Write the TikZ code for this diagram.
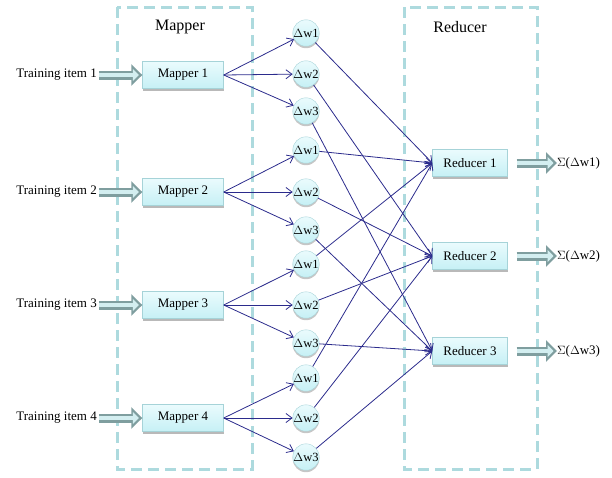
\documentclass[tikz,border=0pt]{standalone}
\usepackage{fontspec}
\setmainfont{Liberation Serif}
\usetikzlibrary{arrows.meta,shadows}

\definecolor{frameteal}{HTML}{ADDADE}
\definecolor{boxline}{HTML}{A6D3D8}
\definecolor{boxtop}{HTML}{EAFBFD}
\definecolor{boxbottom}{HTML}{C6F0F5}
\definecolor{arrowline}{HTML}{7F9E9F}
\definecolor{arrowfill}{HTML}{D3EEF0}
\definecolor{linkblue}{HTML}{2B2B8C}

\begin{document}
\begin{tikzpicture}[x=1pt,y=-1pt,font=\fontsize{13}{15}\selectfont,
    box/.style={draw=boxline, top color=boxtop, bottom color=boxbottom,
      minimum height=27pt, inner sep=0pt,
      drop shadow={shadow xshift=0.8pt, shadow yshift=-2pt, fill=gray!55, opacity=1}},
    mapbox/.style={box, minimum width=81pt},
    redbox/.style={box, minimum width=75pt},
    dw/.style={circle, draw=boxline, top color=boxtop, bottom color=boxbottom,
      minimum size=26pt, inner sep=0pt, font=\fontsize{12.5}{14}\selectfont,
      drop shadow={shadow xshift=0pt, shadow yshift=-2pt, fill=gray!45, opacity=1}},
    link/.style={draw=linkblue, line width=0.8pt, -{Straight Barb[length=6pt,width=9pt]}},
    fatarrow/.style={preaction={draw=arrowline, line width=9pt, shorten >=0pt,
        -{Triangle[length=11pt,width=21pt]}},
      draw=arrowfill, line width=4pt, shorten >=3.5pt,
      -{Triangle[length=6pt,width=12pt]}},
    frame/.style={draw=frameteal, line width=3pt, dash pattern=on 11pt off 6pt},
    title/.style={font=\fontsize{16}{18}\selectfont}]

    \useasboundingbox (0,0) rectangle (612,477);

    % dashed frames
    \draw[frame] (117,7) rectangle (252,469);
    \draw[frame] (404,7) rectangle (537,469);
    \node[title] (maptitle) at (180,27) {Mapper};
    \node[title] (redtitle) at (460,27) {Reducer};

    % mappers
    \node[mapbox] (map1) at (183,75) {Mapper 1};
    \node[mapbox] (map2) at (183,192) {Mapper 2};
    \node[mapbox] (map3) at (183,305) {Mapper 3};
    \node[mapbox] (map4) at (183,418) {Mapper 4};

    \node[anchor=east, inner sep=1pt] (item1) at (98,75) {Training item 1};
    \node[anchor=east, inner sep=1pt] (item2) at (98,192) {Training item 2};
    \node[anchor=east, inner sep=1pt] (item3) at (98,305) {Training item 3};
    \node[anchor=east, inner sep=1pt] (item4) at (98,418) {Training item 4};

    \draw[fatarrow, shorten <=1pt] (item1) -- (map1);
    \draw[fatarrow, shorten <=1pt] (item2) -- (map2);
    \draw[fatarrow, shorten <=1pt] (item3) -- (map3);
    \draw[fatarrow, shorten <=1pt] (item4) -- (map4);

    % delta w
    \node[dw] (dw11) at (306,33) {$\Delta$w1};
    \node[dw] (dw12) at (306,74) {$\Delta$w2};
    \node[dw] (dw13) at (306,111) {$\Delta$w3};
    \node[dw] (dw21) at (306,150) {$\Delta$w1};
    \node[dw] (dw22) at (306,192) {$\Delta$w2};
    \node[dw] (dw23) at (306,230) {$\Delta$w3};
    \node[dw] (dw31) at (306,264) {$\Delta$w1};
    \node[dw] (dw32) at (306,305) {$\Delta$w2};
    \node[dw] (dw33) at (306,343) {$\Delta$w3};
    \node[dw] (dw41) at (306,378) {$\Delta$w1};
    \node[dw] (dw42) at (306,418) {$\Delta$w2};
    \node[dw] (dw43) at (306,457) {$\Delta$w3};

    % reducers
    \node[redbox] (red1) at (470,163) {Reducer 1};
    \node[redbox] (red2) at (470,256) {Reducer 2};
    \node[redbox] (red3) at (470,351) {Reducer 3};

    \node[anchor=west, inner sep=0pt] (sum1) at (557,163) {$\Sigma$($\Delta$w1)};
    \node[anchor=west, inner sep=0pt] (sum2) at (557,256) {$\Sigma$($\Delta$w2)};
    \node[anchor=west, inner sep=0pt] (sum3) at (557,351) {$\Sigma$($\Delta$w3)};

    \draw[fatarrow, shorten <=9pt] (red1) -- (sum1);
    \draw[fatarrow, shorten <=9pt] (red2) -- (sum2);
    \draw[fatarrow, shorten <=9pt] (red3) -- (sum3);

    % mapper to delta w
    \draw[link] (map1.east) -- (dw11);
    \draw[link] (map1.east) -- (dw12);
    \draw[link] (map1.east) -- (dw13);
    \draw[link] (map2.east) -- (dw21);
    \draw[link] (map2.east) -- (dw22);
    \draw[link] (map2.east) -- (dw23);
    \draw[link] (map3.east) -- (dw31);
    \draw[link] (map3.east) -- (dw32);
    \draw[link] (map3.east) -- (dw33);
    \draw[link] (map4.east) -- (dw41);
    \draw[link] (map4.east) -- (dw42);
    \draw[link] (map4.east) -- (dw43);

    % delta w to reducer
    \draw[link] (dw11) -- (red1.west);
    \draw[link] (dw21) -- (red1.west);
    \draw[link] (dw31) -- (red1.west);
    \draw[link] (dw41) -- (red1.west);
    \draw[link] (dw12) -- (red2.west);
    \draw[link] (dw22) -- (red2.west);
    \draw[link] (dw32) -- (red2.west);
    \draw[link] (dw42) -- (red2.west);
    \draw[link] (dw13) -- (red3.west);
    \draw[link] (dw23) -- (red3.west);
    \draw[link] (dw33) -- (red3.west);
    \draw[link] (dw43) -- (red3.west);

\end{tikzpicture}
\end{document}
